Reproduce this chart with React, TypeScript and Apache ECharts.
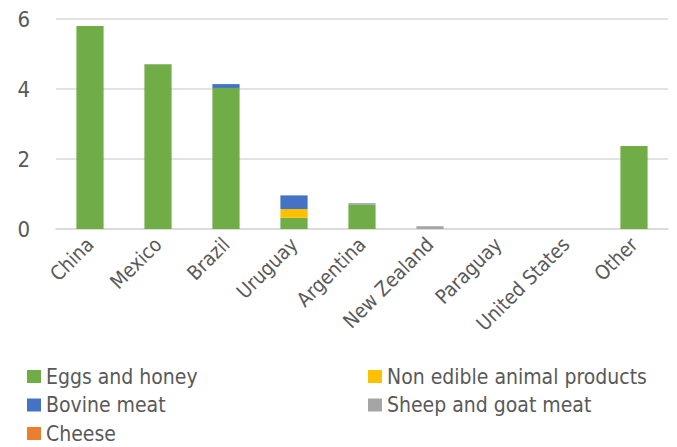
import React, { useEffect, useRef } from "react";
import * as echarts from "echarts";

const categories = ["China", "Mexico", "Brazil", "Uruguay", "Argentina", "New Zealand", "Paraguay", "United States", "Other"];
const eggsHoney = [5.8, 4.71, 4.03, 0.32, 0.69, 0, 0, 0, 2.37];
const nonEdible = [0, 0, 0, 0.25, 0, 0, 0, 0, 0];
const bovineMeat = [0, 0, 0.11, 0.39, 0, 0, 0, 0, 0];
const sheepGoat = [0, 0, 0, 0, 0.05, 0.08, 0, 0, 0];
const cheese = [0, 0, 0, 0, 0, 0, 0, 0, 0];
const yTicks = [0, 2, 4, 6];

const FONT = "'DejaVu Sans Condensed', 'DejaVu Sans', sans-serif";
const TXT = "#595959";

export default function App() {
  const ref = useRef<HTMLDivElement>(null);
  useEffect(() => {
    const chart = echarts.init(ref.current!, null, { renderer: "svg" });
    const mk = (name: string, data: number[], color: string) => ({
      name,
      type: "bar",
      stack: "total",
      data,
      barWidth: "40%",
      itemStyle: { color },
    });
    const legendText = { fontSize: 21, color: TXT, fontFamily: FONT, lineHeight: 20 };
    chart.setOption({
      animation: false,
      textStyle: { fontFamily: FONT },
      grid: { left: 56, right: 9, top: 19, bottom: 218 },
      legend: [
        {
          data: ["Eggs and honey", "Bovine meat", "Cheese"],
          orient: "vertical",
          left: 27,
          top: 366,
          padding: 0,
          itemWidth: 14,
          itemHeight: 13,
          itemGap: 7.5,
          icon: "rect",
          textStyle: legendText,
        },
        {
          data: ["Non edible animal products", "Sheep and goat meat"],
          orient: "vertical",
          left: 368,
          top: 366,
          padding: 0,
          itemWidth: 14,
          itemHeight: 13,
          itemGap: 7.5,
          icon: "rect",
          textStyle: legendText,
        },
      ],
      xAxis: {
        type: "category",
        data: categories,
        axisLine: { lineStyle: { color: "#d9d9d9", width: 1.5 } },
        axisTick: { show: false },
        axisLabel: { rotate: 45, fontSize: 20, color: TXT, margin: 12, interval: 0 },
      },
      yAxis: {
        type: "value",
        min: yTicks[0],
        max: yTicks[yTicks.length - 1],
        interval: 2,
        axisLabel: { fontSize: 22, color: TXT, margin: 26 },
        splitLine: { lineStyle: { color: "#d9d9d9", width: 1.5 } },
        axisLine: { show: false },
        axisTick: { show: false },
      },
      series: [
        mk("Eggs and honey", eggsHoney, "#70ad47"),
        mk("Non edible animal products", nonEdible, "#ffc000"),
        mk("Bovine meat", bovineMeat, "#4472c4"),
        mk("Sheep and goat meat", sheepGoat, "#a5a5a5"),
        mk("Cheese", cheese, "#ed7d31"),
      ],
    });
    return () => chart.dispose();
  }, []);
  return (
    <div
      ref={ref}
      style={{ position: "fixed", left: 0, top: 0, width: 677, height: 447, background: "#fff" }}
    />
  );
}
